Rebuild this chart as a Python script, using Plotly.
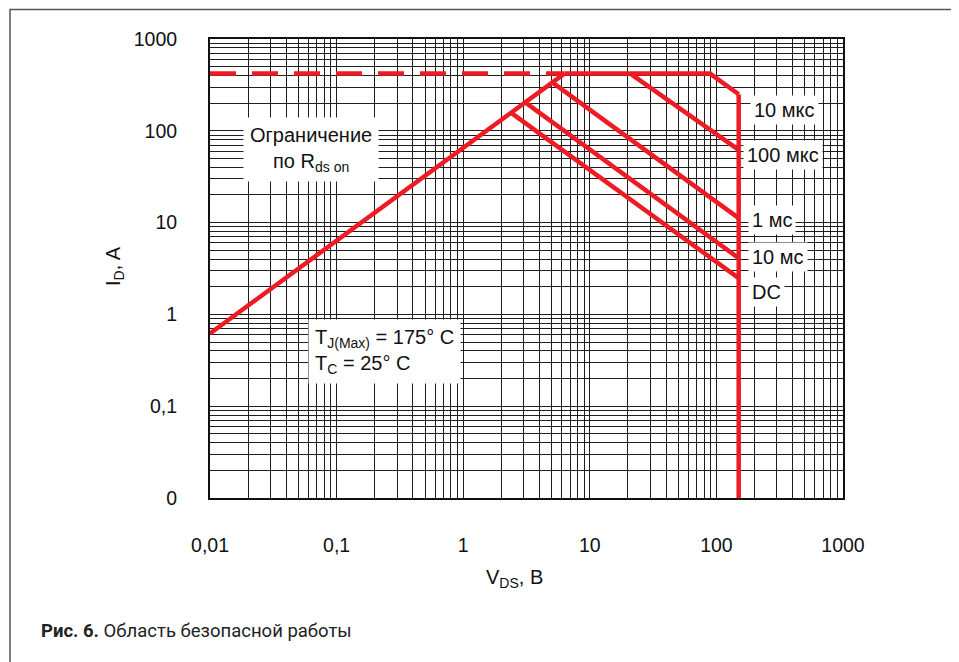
import plotly.graph_objects as go

# ---- data ----
x_tickvals = [0.01, 0.1, 1, 10, 100, 1000]
x_ticktext = ["0,01", "0,1", "1", "10", "100", "1000"]
y_tickvals = [0.01, 0.1, 1, 10, 100, 1000]
y_ticktext = ["0", "0,1", "1", "10", "100", "1000"]

rds_v = [0.01, 6.3]
rds_i = [0.62, 420]

limit_dash_v = [0.01, 6.3]
limit_dash_i = [420, 420]

us10_v = [6.3, 89, 150]
us10_i = [420, 420, 250]

vmax_v = [150, 150]
vmax_i = [250, 0.01]

us100_v = [20.9, 150]
us100_i = [420, 62]

ms1_v = [5.05, 150]
ms1_i = [337, 11.2]

ms10_v = [3.09, 150]
ms10_i = [204, 4.1]

dc_v = [2.44, 150]
dc_i = [154, 2.48]

curve_labels = ["10 мкс", "100 мкс", "1 мс", "10 мс", "DC"]

RED = "#ED1C24"
GRID = "#1e1e1e"
FONT = "Liberation Sans, Arial, sans-serif"
TXT = "#111"

# plot area in reference pixels (page coordinates)
PL, PR, PT, PB = 210, 843, 39, 498


def px(xp):
    return (xp - PL) / (PR - PL)


def py(yp):
    return (PB - yp) / (PB - PT)


fig = go.Figure()


def add_line(v, i, dash="solid"):
    fig.add_trace(go.Scatter(x=v, y=i, mode="lines",
                             line=dict(color=RED, width=4.5, dash=dash),
                             showlegend=False, hoverinfo="skip"))


add_line(limit_dash_v, limit_dash_i, dash="26px,16px")
add_line(rds_v, rds_i)
add_line(us10_v, us10_i)
add_line(vmax_v, vmax_i)
add_line(us100_v, us100_i)
add_line(ms1_v, ms1_i)
add_line(ms10_v, ms10_i)
add_line(dc_v, dc_i)

# curve labels (layout positions in page pixels)
label_pos = [(750, 110), (743, 155), (748, 220), (748, 257), (748, 292)]
for lab, (lx, ly) in zip(curve_labels, label_pos):
    fig.add_annotation(x=px(lx), y=py(ly), xref="paper", yref="paper",
                       text=lab, showarrow=False, xanchor="left", yanchor="middle",
                       font=dict(family=FONT, size=20, color=TXT),
                       bgcolor="white", borderpad=3)

fig.add_annotation(x=px(311), y=py(149), xref="paper", yref="paper",
                   text="Ограничение<br>по R<sub>ds on</sub>", showarrow=False,
                   align="center", xanchor="center", yanchor="middle",
                   font=dict(family=FONT, size=20, color=TXT),
                   bgcolor="white", borderpad=6)

fig.add_annotation(x=px(308), y=py(351), xref="paper", yref="paper",
                   text="T<sub>J(Max)</sub> = 175° C<br>T<sub>C</sub> = 25° C",
                   showarrow=False, align="left", xanchor="left", yanchor="middle",
                   font=dict(family=FONT, size=20, color=TXT),
                   bgcolor="white", borderpad=6)

# axis titles
fig.add_annotation(x=px(114), y=py(266), xref="paper", yref="paper",
                   text="I<sub>D</sub>, A", showarrow=False, textangle=-90,
                   xanchor="center", yanchor="middle",
                   font=dict(family=FONT, size=20, color=TXT))
fig.add_annotation(x=px(514), y=py(578), xref="paper", yref="paper",
                   text="V<sub>DS</sub>, B", showarrow=False,
                   xanchor="center", yanchor="middle",
                   font=dict(family=FONT, size=20, color=TXT))

# caption
fig.add_annotation(x=px(39), y=py(631), xref="paper", yref="paper",
                   xanchor="left", yanchor="middle",
                   text="<b>Рис. 6.</b> Область безопасной работы", showarrow=False,
                   font=dict(family="Roboto, sans-serif", size=18.5, color="#222"))

# outer frame
fig.add_shape(type="rect", xref="paper", yref="paper",
              x0=px(10), x1=px(956), y0=py(700), y1=py(9.5),
              line=dict(color="#555", width=1.5), layer="below")

axis_common = dict(type="log", showgrid=True, gridcolor=GRID, gridwidth=1.2,
                   showline=True, linecolor="#111", linewidth=2, mirror=True,
                   ticks="", zeroline=False,
                   tickfont=dict(family=FONT, size=19.5, color=TXT),
                   minor=dict(dtick="D1", showgrid=True, gridcolor=GRID, gridwidth=1.2))

fig.update_xaxes(range=[-2, 3], tickmode="array", tickvals=x_tickvals,
                 ticktext=x_ticktext, ticklabelstandoff=29, **axis_common)
fig.update_yaxes(range=[-2, 3], tickmode="array", tickvals=y_tickvals,
                 ticktext=y_ticktext, ticklabelstandoff=27, **axis_common)

# page body has an 8px margin: figure spans page pixels 8..959 x 8..662
W, H = 959 - 8, 662 - 8
fig.update_layout(width=W, height=H,
                  margin=dict(l=PL - 8, r=959 - PR, t=PT - 8, b=662 - PB,
                              autoexpand=False),
                  paper_bgcolor="white", plot_bgcolor="white",
                  showlegend=False)

fig.write_html("out.html")
